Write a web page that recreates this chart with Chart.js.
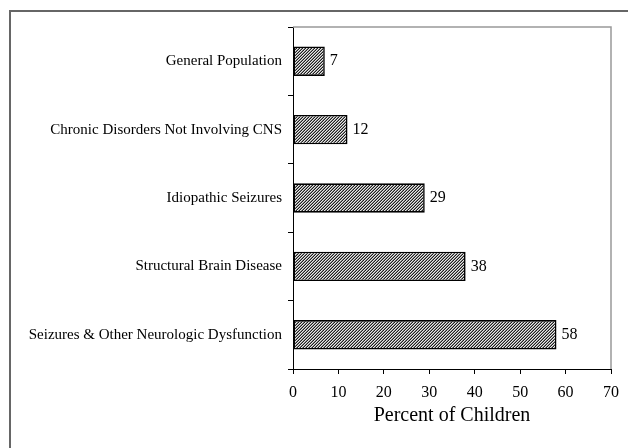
<!DOCTYPE html>
<html>
<head>
<meta charset="utf-8">
<script src="https://cdn.jsdelivr.net/npm/chart.js@4"></script>
<style>
html,body{margin:0;padding:0;background:#fff;}
#wrap{position:relative;width:628px;height:448px;}
</style>
</head>
<body>
<div id="wrap"><canvas id="c" width="628" height="448"></canvas></div>
<script>
const categories = [
  'General Population',
  'Chronic Disorders Not Involving CNS',
  'Idiopathic Seizures',
  'Structural Brain Disease',
  'Seizures & Other Neurologic Dysfunction'
];
const percentValues = [7, 12, 29, 38, 58];
const xTickValues = [0, 10, 20, 30, 40, 50, 60, 70];
const xAxisTitle = 'Percent of Children';

const FONT = "'Liberation Serif', 'Times New Roman', serif";

function makeHatch() {
  const p = document.createElement('canvas');
  p.width = 3; p.height = 3;
  const c = p.getContext('2d');
  c.fillStyle = '#e8e8e8';
  c.fillRect(0, 0, 3, 3);
  for (let x = 0; x < 3; x++) {
    for (let y = 0; y < 3; y++) {
      const k = (x + y) % 3;
      if (k === 2) { c.fillStyle = '#1e1e1e'; c.fillRect(x, y, 1, 1); }
      else if (k === 1) { c.fillStyle = '#8a8a8a'; c.fillRect(x, y, 1, 1); }
    }
  }
  return document.getElementById('c').getContext('2d').createPattern(p, 'repeat');
}

const framePlugin = {
  id: 'frame',
  beforeDraw(chart) {
    const ctx = chart.ctx;
    ctx.save();
    ctx.fillStyle = '#fff';
    ctx.fillRect(0, 0, chart.width, chart.height);
    ctx.strokeStyle = '#666';
    ctx.lineWidth = 2;
    ctx.beginPath();
    ctx.moveTo(10, chart.height);
    ctx.lineTo(10, 11);
    ctx.lineTo(chart.width, 11);
    ctx.stroke();
    ctx.restore();
  },
  afterDraw(chart) {
    const a = chart.chartArea;
    const ctx = chart.ctx;
    ctx.save();
    ctx.strokeStyle = '#999';
    ctx.lineWidth = 1.5;
    ctx.beginPath();
    ctx.moveTo(a.left, a.top);
    ctx.lineTo(a.right, a.top);
    ctx.lineTo(a.right, a.bottom);
    ctx.stroke();
    ctx.restore();
  }
};

const valueLabelPlugin = {
  id: 'valueLabels',
  afterDatasetsDraw(chart) {
    const ctx = chart.ctx;
    const meta = chart.getDatasetMeta(0);
    const data = chart.data.datasets[0].data;
    ctx.save();
    ctx.fillStyle = '#000';
    ctx.font = '16px ' + FONT;
    ctx.textAlign = 'left';
    ctx.textBaseline = 'middle';
    meta.data.forEach((bar, i) => {
      ctx.fillText(String(data[i]), bar.x + 5, bar.y);
    });
    ctx.restore();
  }
};

new Chart(document.getElementById('c'), {
  type: 'bar',
  data: {
    labels: categories,
    datasets: [{
      data: percentValues,
      backgroundColor: makeHatch(),
      borderColor: '#000',
      borderWidth: 1.6,
      borderSkipped: false,
      categoryPercentage: 1.0,
      barPercentage: 0.43
    }]
  },
  options: {
    indexAxis: 'y',
    responsive: false,
    animation: false,
    events: [],
    layout: { padding: { top: 27, right: 16, left: 0, bottom: 0 } },
    plugins: { legend: { display: false }, tooltip: { enabled: false } },
    scales: {
      x: {
        min: 0, max: 70,
        afterBuildTicks(s) { s.ticks = xTickValues.map(v => ({ value: v })); },
        afterFit(s) { s.height = 79; },
        grid: { display: true, drawOnChartArea: false, drawTicks: true, tickLength: 5, color: '#000', lineWidth: 1 },
        border: { display: true, color: '#000', width: 1 },
        ticks: { color: '#000', font: { family: FONT, size: 16 }, padding: 9, maxRotation: 0 },
        title: { display: true, text: xAxisTitle, color: '#000', font: { family: FONT, size: 20 }, padding: { top: 0, bottom: 20 } }
      },
      y: {
        afterFit(s) { s.width = 293; },
        grid: { display: true, drawOnChartArea: false, drawTicks: true, tickLength: 5, color: '#000', lineWidth: 1, offset: true },
        border: { display: true, color: '#000', width: 1 },
        ticks: { color: '#000', font: { family: FONT, size: 15 }, padding: 6 }
      }
    }
  },
  plugins: [framePlugin, valueLabelPlugin]
});
</script>
</body>
</html>
